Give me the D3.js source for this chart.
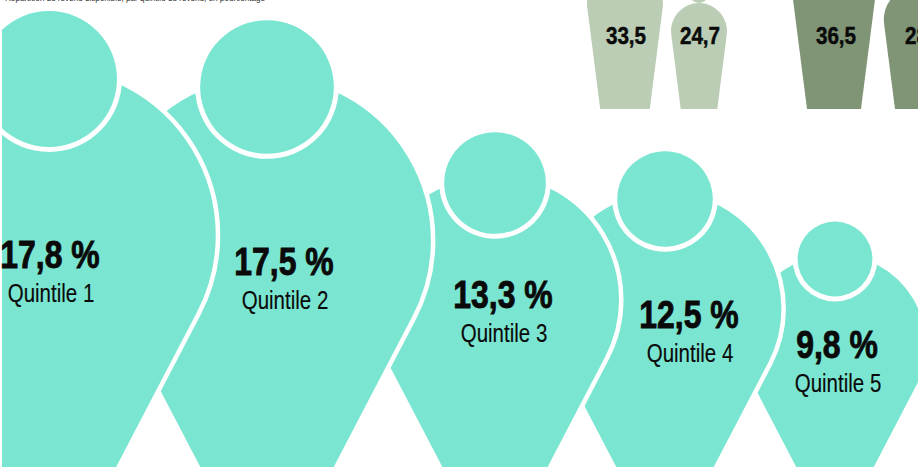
<!DOCTYPE html>
<html><head><meta charset="utf-8">
<script src="https://cdnjs.cloudflare.com/ajax/libs/d3/7.8.5/d3.min.js"></script>
<style>html,body{margin:0;background:#fff}svg{display:block}</style></head>
<body><svg id="c" width="918" height="467"></svg>
<script>
const quintiles = ["Quintile 1","Quintile 2","Quintile 3","Quintile 4","Quintile 5"];
const shares = [17.8,17.5,13.3,12.5,9.8];
const headX = [49,267,495,665,835];
const headY = [79,87,183,199,259];
const labelX = [51,285,504,690,838];
const labelY = [268,275,308,328,358];
const smallValues = [33.5,24.7,36.5,28.4];
const smallLabels = ["33,5","24,7","36,5","28,4"];
const smallX = [625,699,834,916];
const smallLabelX = [626,700,836,925];
const smallColors = ["#bccdb6","#bccdb6","#7f9576","#7f9576"];
const caption = "Répartition du revenu disponible, par quintile de revenu, en pourcentage";

const W=918,H=467;
const svg=d3.select("#c");
const teal="#7ae6d1";
const fam="'Liberation Sans',Arial,sans-serif";
const head=d3.scaleLinear().domain([0,17.8]).range([0,68]);
const bodyR=d3.scaleLinear().domain([0,17.8]).range([0,169]);
const smallR=d3.scaleLinear().domain([0,24.7]).range([0,28]);
const smallH=d3.scaleLinear().domain([0,24.7]).range([0,106]);

function pin(cx,cy,R,tipDist,cutY){
  const a=Math.asin(R/tipDist);
  const tx=R*Math.cos(a), ty=R*Math.sin(a);
  const tipY=cy+tipDist;
  const p=d3.path();
  const yEnd=Math.min(cutY,tipY);
  const hw=(tipY-yEnd)*Math.tan(a);
  p.moveTo(cx-hw,yEnd);
  p.lineTo(cx-tx,cy+ty);
  p.arc(cx,cy,R,Math.PI-a,a,false);
  p.lineTo(cx+hw,yEnd);
  p.closePath();
  return p.toString();
}
svg.append("defs").append("clipPath").attr("id","clip").append("rect")
  .attr("x",2).attr("y",0).attr("width",W).attr("height",H);

function label(x,y,txt,size,weight,sx,stroke){
  svg.append("text").attr("transform",`translate(${x},${y}) scale(${sx},1)`)
    .attr("text-anchor","middle").attr("font-family",fam).attr("font-weight",weight)
    .attr("font-size",size).attr("fill","#0a0a0a")
    .attr("stroke","#0a0a0a").attr("stroke-width",stroke).text(txt);
}

// small pictograms
svg.append("circle").attr("cx",699).attr("cy",-7).attr("r",10).attr("fill",smallColors[1]);
smallValues.forEach((v,i)=>{
  const R=smallR(v), top=109-smallH(v), cy=top+R;
  svg.append("path").attr("d",pin(smallX[i],cy,R,R*7.9,109)).attr("fill",smallColors[i]);
});
smallValues.forEach((v,i)=>label(smallLabelX[i],44,smallLabels[i],24,700,0.86,0.5));

// main pictograms, drawn back to front
const g=svg.append("g").attr("clip-path","url(#clip)");
d3.range(shares.length).reverse().forEach(i=>{
  const v=shares[i], r=head(v), R=bodyR(v);
  const cx=headX[i], hy=headY[i], cy=hy+R*0.925;
  g.append("path").attr("d",pin(cx,cy,R,R*2.16,H+20)).attr("fill",teal).attr("stroke","#fff").attr("stroke-width",4.5);
  g.append("circle").attr("cx",cx).attr("cy",hy).attr("r",r+5).attr("fill","#fff");
  g.append("circle").attr("cx",cx).attr("cy",hy).attr("r",r).attr("fill",teal);
});
// labels
shares.forEach((v,i)=>{
  label(labelX[i]-1,labelY[i],d3.format(".1f")(v).replace(".",",")+" %",38,700,0.84,0.9);
  label(labelX[i],labelY[i]+33.5,quintiles[i],25,400,0.82,0.15);
});
svg.append("text").attr("x",5).attr("y",0.5).attr("font-family",fam).attr("font-size",9)
  .attr("textLength",260).attr("lengthAdjust","spacingAndGlyphs").attr("fill","#333").text(caption);
</script></body></html>
